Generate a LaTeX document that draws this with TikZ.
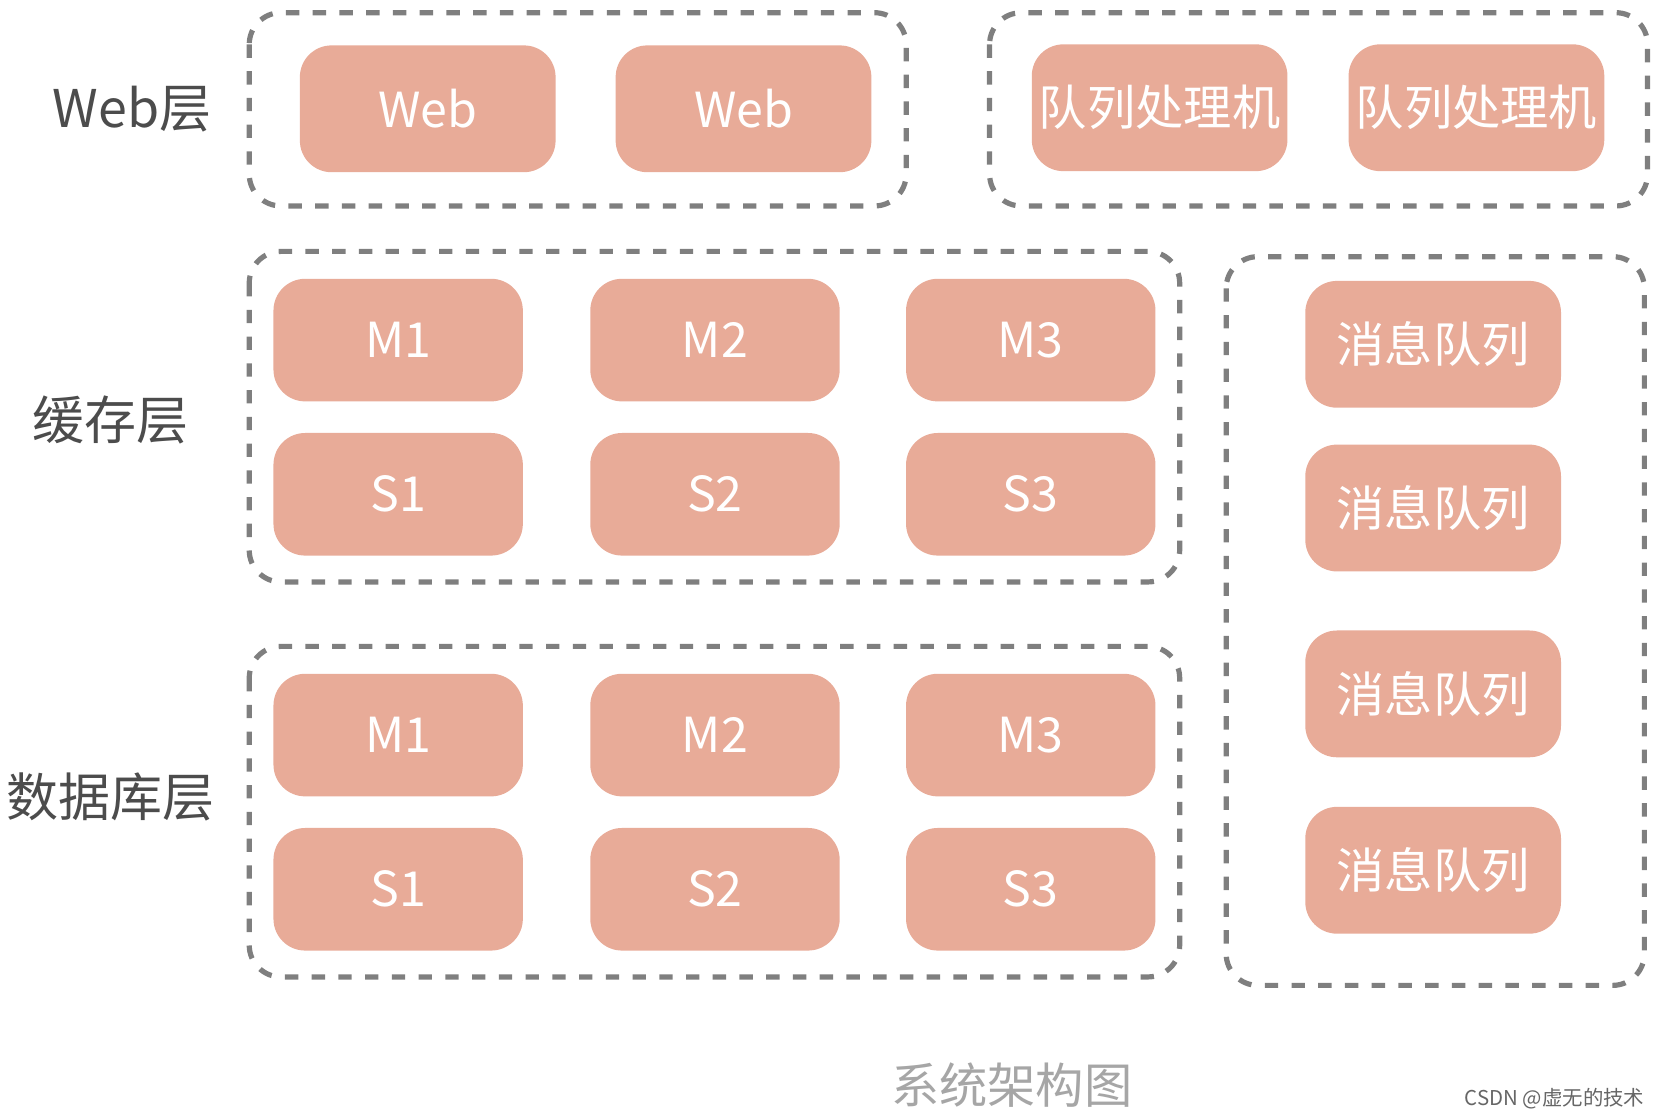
\documentclass[tikz,border=0pt]{standalone}
\usepackage{fontspec}
\newfontfamily\cjk{Noto Sans CJK SC}
\definecolor{salmon}{HTML}{E8AB98}
\definecolor{frame}{HTML}{7F7F7F}
\tikzset{
  cell/.style={rounded corners=0.3cm,fill=salmon,text=white,font=\cjk\fontsize{13}{13}\selectfont,minimum width=2.36cm,minimum height=1.16cm,inner sep=0pt},
  group/.style={draw=frame,line width=1.4pt,dash pattern=on 3.6pt off 3.6pt,rounded corners=0.3cm},
  layer/.style={text=black!70,font=\cjk\fontsize{14}{14}\selectfont}
}
\begin{document}
\begin{tikzpicture}[x=0.01cm,y=-0.01cm]
\useasboundingbox (0,0) rectangle (1568,1056);

\node[layer] (lweb) at (125,103) {Web层};
\node[layer] (lcache) at (105,398) {缓存层};
\node[layer] (ldb) at (105,755) {数据库层};

\draw[group] (236,12) rectangle (858,195);
\draw[group] (937,12) rectangle (1560,195);
\draw[group] (236,238) rectangle (1117,551);
\draw[group] (236,612) rectangle (1117,925);
\draw[group] (1161,243) rectangle (1557,933);

\node[cell,minimum width=2.42cm,minimum height=1.2cm] (web1) at (405,103) {Web};
\node[cell,minimum width=2.42cm,minimum height=1.2cm] (web2) at (704,103) {Web};
\node[cell,minimum width=2.42cm,minimum height=1.2cm] (qp1) at (1098,102) {队列处理机};
\node[cell,minimum width=2.42cm,minimum height=1.2cm] (qp2) at (1398,102) {队列处理机};

\node[cell] (cm1) at (377,322) {M1};
\node[cell] (cm2) at (677,322) {M2};
\node[cell] (cm3) at (976,322) {M3};
\node[cell] (cs1) at (377,468) {S1};
\node[cell] (cs2) at (677,468) {S2};
\node[cell] (cs3) at (976,468) {S3};

\node[cell] (dm1) at (377,696) {M1};
\node[cell] (dm2) at (677,696) {M2};
\node[cell] (dm3) at (976,696) {M3};
\node[cell] (ds1) at (377,842) {S1};
\node[cell] (ds2) at (677,842) {S2};
\node[cell] (ds3) at (976,842) {S3};

\node[cell,minimum width=2.42cm,minimum height=1.2cm] (mq1) at (1357,326) {消息队列};
\node[cell,minimum width=2.42cm,minimum height=1.2cm] (mq2) at (1357,481) {消息队列};
\node[cell,minimum width=2.42cm,minimum height=1.2cm] (mq3) at (1357,657) {消息队列};
\node[cell,minimum width=2.42cm,minimum height=1.2cm] (mq4) at (1357,824) {消息队列};

\node[text=black!35,font=\cjk\fontsize{13}{13}\selectfont] (title) at (958,1027) {系统架构图};
\node[text=black!60,font=\cjk\fontsize{5.5}{5.5}\selectfont] (mark) at (1472,1040) {CSDN @虚无的技术};
\end{tikzpicture}
\end{document}
